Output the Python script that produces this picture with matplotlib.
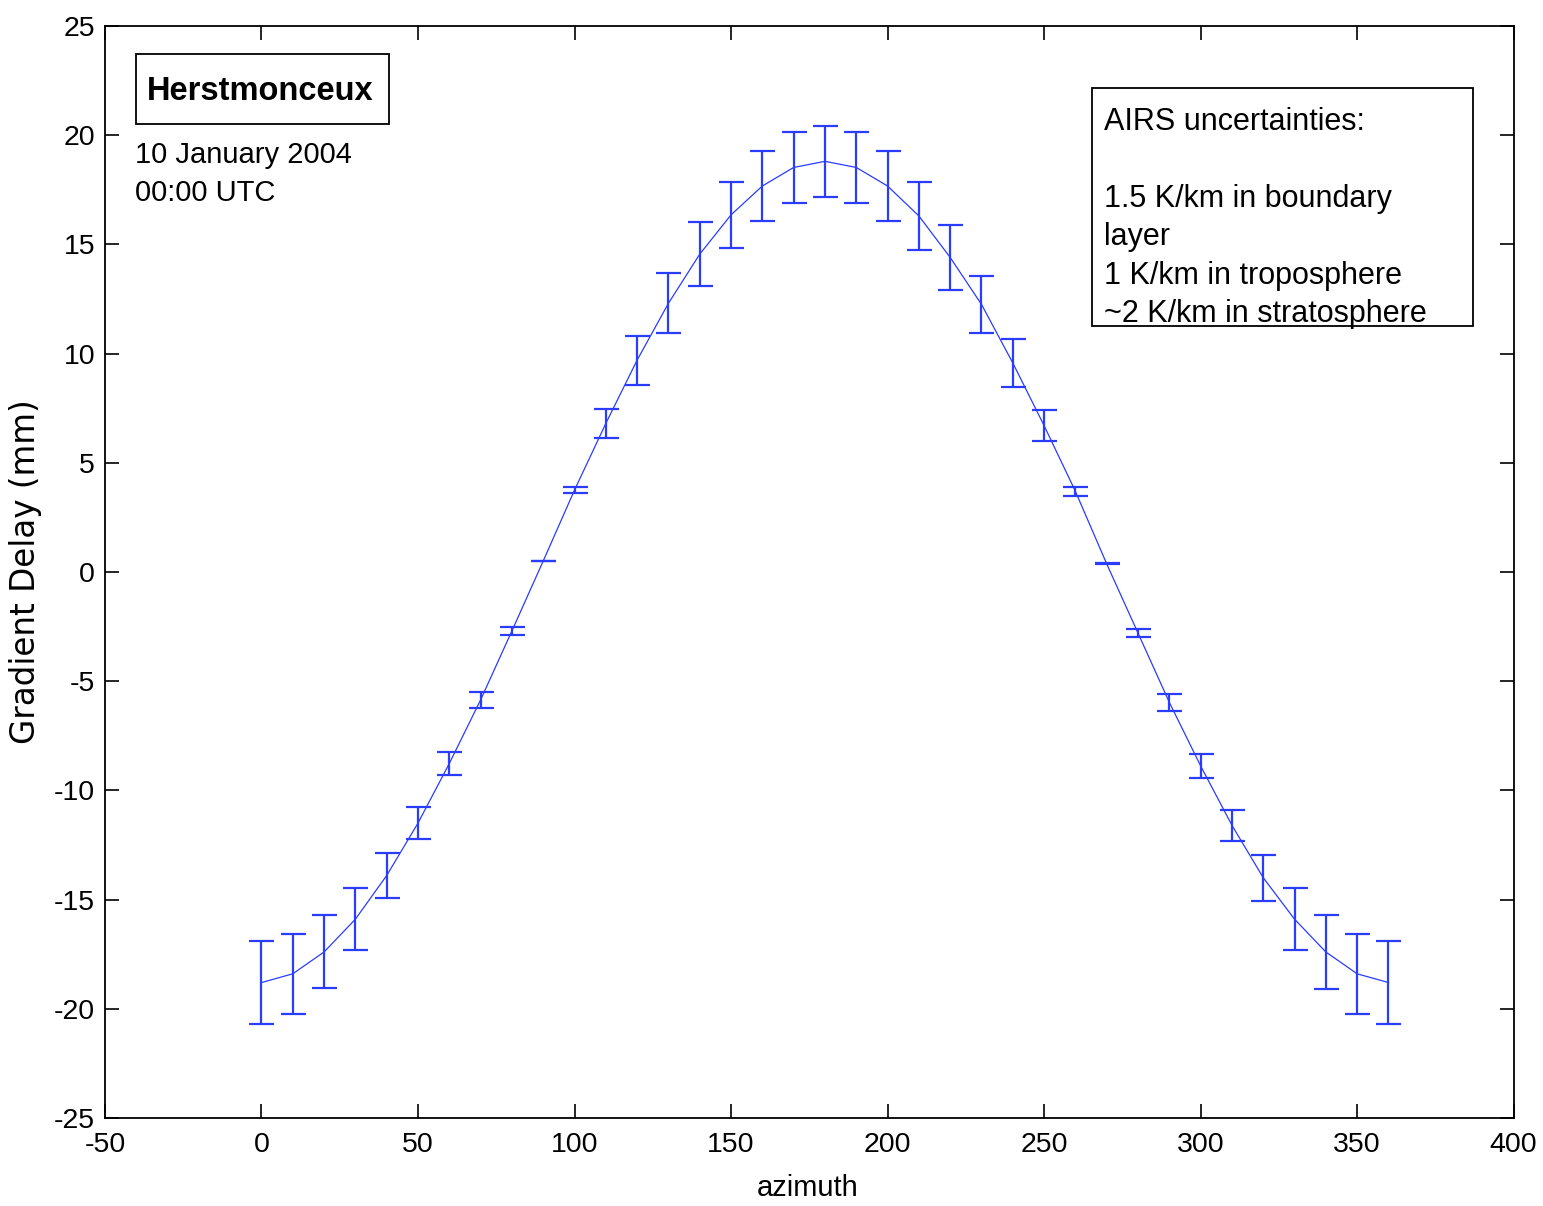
import matplotlib
matplotlib.use("Agg")
import matplotlib.pyplot as plt
from matplotlib.patches import Rectangle

plt.rcParams['font.family'] = ['Liberation Sans', 'DejaVu Sans']
plt.rcParams['axes.unicode_minus'] = False

azimuth = list(range(0, 361, 10))
delay = [-18.8, -18.4, -17.4, -15.9, -13.9, -11.5, -8.77, -5.86, -2.7, 0.5,
         3.75, 6.8, 9.7, 12.3, 14.55, 16.35, 17.67, 18.52, 18.8, 18.52,
         17.67, 16.3, 14.4, 12.25, 9.57, 6.7, 3.69, 0.37, -2.8, -5.97,
         -8.88, -11.6, -14.0, -15.9, -17.4, -18.4, -18.8]
err = [1.88, 1.83, 1.67, 1.42, 1.05, 0.73, 0.53, 0.37, 0.18, 0.02,
       0.14, 0.66, 1.12, 1.37, 1.47, 1.51, 1.6, 1.63, 1.63, 1.63,
       1.6, 1.56, 1.47, 1.3, 1.1, 0.71, 0.2, 0.02, 0.18, 0.39,
       0.55, 0.71, 1.05, 1.42, 1.69, 1.83, 1.88]
xticks = list(range(-50, 401, 50))
yticks = list(range(-25, 26, 5))

color = '#2a3cff'
fig = plt.figure(figsize=(15.43, 12.06), dpi=100)
ax = fig.add_axes([0.068, 0.073, 0.913, 0.9055])
ax.plot(azimuth, delay, color=color, lw=0.9)
ax.errorbar(azimuth, delay, yerr=err, fmt='none', ecolor=color, elinewidth=1.6,
            capsize=9, capthick=1.6)
ax.set_xlim(-50, 400)
ax.set_ylim(-25, 25)
ax.set_xticks(xticks)
ax.set_yticks(yticks)
ax.tick_params(direction='in', length=10, width=1.2, top=True, right=True,
               labelsize=20.5)
ax.tick_params(axis='x', pad=10)
ax.tick_params(axis='y', pad=7)
for s in ax.spines.values():
    s.set_linewidth(1.3)
ax.set_xlabel('azimuth', fontsize=21)
ax.xaxis.set_label_coords(0.499, -0.051)
ax.set_ylabel('Gradient Delay (mm)', fontsize=23.5, family='DejaVu Sans')
ax.yaxis.set_label_coords(-0.0447, 0.5)

# Station name box
ax.add_patch(Rectangle((0.022, 0.9103), 0.1796, 0.0641, transform=ax.transAxes,
                       fc='white', ec='black', lw=1.3, zorder=5))
ax.text(0.0298, 0.940, 'Herstmonceux', transform=ax.transAxes, fontsize=23.5,
        fontweight='bold', ha='left', va='center', zorder=6)
ax.text(0.0213, 0.864, '10 January 2004\n00:00 UTC', transform=ax.transAxes,
        fontsize=21, ha='left', va='center', linespacing=1.45)

# AIRS box
ax.add_patch(Rectangle((0.7005, 0.7253), 0.2705, 0.2179, transform=ax.transAxes,
                       fc='white', ec='black', lw=1.3, zorder=5))
ax.text(0.709, 0.824,
        'AIRS uncertainties:\n\n1.5 K/km in boundary\nlayer\n1 K/km in troposphere\n~2 K/km in stratosphere',
        transform=ax.transAxes, fontsize=22, ha='left', va='center', linespacing=1.36,
        zorder=6)

fig.savefig('out.png', dpi=100)
